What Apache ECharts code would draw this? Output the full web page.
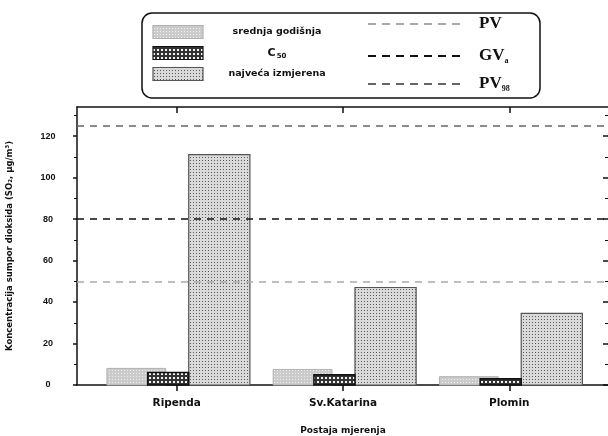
<!DOCTYPE html>
<html><head><meta charset="utf-8">
<script src="https://cdn.jsdelivr.net/npm/echarts@6/dist/echarts.min.js"></script>
<style>html,body{margin:0;padding:0;background:#fff}#c{width:608px;height:436px}</style>
</head><body><div id="c"></div>
<script>
// ---- data ----
const categories = ['Ripenda', 'Sv.Katarina', 'Plomin'];
const seriesNames = ['srednja godišnja', 'C50', 'najveća izmjerena'];
const meanValues = [8, 7.5, 4];
const c50Values = [6, 5, 3];
const maxValues = [111, 47, 34.5];
const limitNames = ['PV', 'GV', 'PV'];
const limitSubs = ['', 'a', '98'];
const limitValues = [50, 80, 125];
const yTicks = [0, 20, 40, 60, 80, 100, 120];

// ---- patterns ----
function pat(size, bg, draw) {
  const cv = document.createElement('canvas');
  cv.width = size; cv.height = size;
  const g = cv.getContext('2d');
  g.fillStyle = bg; g.fillRect(0, 0, size, size);
  draw(g);
  return { image: cv, repeat: 'repeat' };
}
const patLight = pat(3, '#cbcbcb', g => { g.fillStyle = '#eeeeee'; g.fillRect(1, 1, 1, 1); });
const patDark = pat(4, '#333333', g => { g.fillStyle = '#f4f4f4'; g.fillRect(1, 1, 2, 2); });
const patMax = pat(3, '#dadada', g => { g.fillStyle = '#5a5a5a'; g.fillRect(1, 1, 1, 1); });

function mk(vals) { return vals.map((v, i) => [i, v]); }
function render(x0, x1, fill, stroke, lw) {
  return function (params, api) {
    const c = api.value(0), v = api.value(1);
    const p0 = api.coord([c + x0, v]);
    const p1 = api.coord([c + x1, 0]);
    return { type: 'rect', shape: { x: p0[0], y: p0[1], width: p1[0] - p0[0], height: p1[1] - p0[1] },
      style: { fill: fill, stroke: stroke, lineWidth: lw } };
  };
}

const limitColors = ['#aaaaaa', '#111111', '#666666'];
const font = 'Liberation Sans';
const wfont = 'DejaVu Sans';

const chart = echarts.init(document.getElementById('c'), null, { renderer: 'canvas' });
const option = {
  animation: false,
  backgroundColor: '#fff',
  grid: { left: 77, right: -1, top: 107, bottom: 51, containLabel: false, outerBoundsMode: 'none' },
  xAxis: [{
    type: 'value', min: -0.6, max: 2.6, position: 'bottom',
    splitLine: { show: false },
    axisLine: { show: true, onZero: false, lineStyle: { color: '#111', width: 1.5 } },
    axisTick: { show: true, customValues: [0, 1, 2], length: 6, lineStyle: { color: '#111', width: 1.5 } },
    axisLabel: { show: true, customValues: [0, 1, 2], formatter: v => categories[Math.round(v)],
      fontFamily: wfont, fontWeight: 'bold', fontSize: 10.5, color: '#111', margin: 13 },
    name: 'Postaja mjerenja', nameLocation: 'middle', nameGap: 41,
    nameTextStyle: { fontFamily: wfont, fontWeight: 'bold', fontSize: 9, color: '#111' }
  }, {
    type: 'value', min: -0.6, max: 2.6, position: 'top',
    splitLine: { show: false },
    axisLine: { show: true, onZero: false, lineStyle: { color: '#111', width: 1.5 } },
    axisTick: { show: true, inside: true, customValues: [0, 1, 2], length: 6, lineStyle: { color: '#111', width: 1.5 } },
    axisLabel: { show: false }
  }],
  yAxis: [{
    type: 'value', min: 0, max: 134, interval: 20, position: 'left',
    splitLine: { show: false },
    axisLine: { show: true, onZero: false, lineStyle: { color: '#111', width: 1.5 } },
    axisTick: { show: true, customValues: yTicks, length: 4, lineStyle: { color: '#111', width: 1.5 } },
    minorTick: { show: true, splitNumber: 2, length: 3, lineStyle: { color: '#111' } },
    axisLabel: { customValues: yTicks, fontFamily: font, fontWeight: 'bold', fontSize: 9, color: '#111', margin: 29, align: 'center' },
    name: 'Koncentracija sumpor dioksida (SO\u2082, µg/m\u00b3)', nameLocation: 'middle', nameRotate: 90, nameGap: 63,
    nameTextStyle: { fontFamily: wfont, fontWeight: 'bold', fontSize: 8.5, color: '#111' }
  }, {
    type: 'value', min: 0, max: 134, interval: 20, position: 'right',
    splitLine: { show: false },
    axisLine: { show: true, onZero: false, lineStyle: { color: '#111', width: 1.5 } },
    axisTick: { show: true, inside: true, customValues: yTicks, length: 6, lineStyle: { color: '#111', width: 1.5 } },
    minorTick: { show: true, splitNumber: 2, length: 4, lineStyle: { color: '#111' } },
    axisLabel: { show: false }
  }],
  series: [
    { type: 'custom', name: seriesNames[0], xAxisIndex: 0, yAxisIndex: 0, data: mk(meanValues),
      renderItem: render(-0.42, -0.066, patLight, '#b0b0b0', 1), z: 2 },
    { type: 'custom', name: seriesNames[2], xAxisIndex: 0, yAxisIndex: 0, data: mk(maxValues),
      renderItem: render(0.072, 0.44, patMax, '#555', 1.2), z: 2 },
    { type: 'custom', name: seriesNames[1], xAxisIndex: 0, yAxisIndex: 0, data: mk(c50Values),
      renderItem: render(-0.175, 0.072, patDark, '#111', 1.5), z: 3,
      markLine: {
        silent: true, symbol: 'none', label: { show: false }, z: 5,
        data: limitValues.map((v, i) => ({ yAxis: v, lineStyle: { color: limitColors[i], type: [7, 6], width: 1.6 } }))
      }
    }
  ],
  graphic: (function () {
    const els = [];
    els.push({ type: 'rect', shape: { x: 142, y: 13, width: 398, height: 85, r: 10 },
      style: { fill: '#fff', stroke: '#111', lineWidth: 1.5 }, z: 10 });
    const rowsL = [32, 53, 74];
    const fills = [[patLight, '#b0b0b0'], [patDark, '#111'], [patMax, '#555']];
    rowsL.forEach((y, i) => {
      els.push({ type: 'rect', shape: { x: 153, y: y - 6.5, width: 50, height: 13 },
        style: { fill: fills[i][0], stroke: fills[i][1], lineWidth: 1.2 }, z: 11 });
    });
    els.push({ type: 'text', x: 277, y: 32, style: { text: seriesNames[0], font: 'bold 9.5px "' + wfont + '"', fill: '#111', align: 'center', verticalAlign: 'middle' }, z: 11 });
    els.push({ type: 'text', x: 277, y: 53, style: { text: '{b|C}{s|50}', rich: { b: { font: 'bold 11px "' + wfont + '"', fill: '#111' }, s: { font: 'bold 7px "' + wfont + '"', fill: '#111', padding: [7, 0, 0, 1] } }, align: 'center', verticalAlign: 'middle' }, z: 11 });
    els.push({ type: 'text', x: 277, y: 74, style: { text: seriesNames[2], font: 'bold 9.5px "' + wfont + '"', fill: '#111', align: 'center', verticalAlign: 'middle' }, z: 11 });
    const rowsR = [24, 56, 84];
    const legColors = ['#aaaaaa', '#111111', '#666666'];
    rowsR.forEach((y, i) => {
      els.push({ type: 'line', shape: { x1: 368, y1: y, x2: 466, y2: y },
        style: { stroke: legColors[i], lineWidth: 2, lineDash: [8, 6] }, z: 11 });
      els.push({ type: 'text', x: 479, y: y, style: {
        text: '{b|' + limitNames[i] + '}' + (limitSubs[i] ? '{s|' + limitSubs[i] + '}' : ''),
        rich: { b: { font: 'bold 17px "Liberation Serif"', fill: '#111' }, s: { font: 'bold 8px "Liberation Serif"', fill: '#111', padding: [10, 0, 0, 0] } },
        verticalAlign: 'middle' }, z: 11 });
    });
    return els;
  })()
};
chart.setOption(option);
</script>
</body></html>
